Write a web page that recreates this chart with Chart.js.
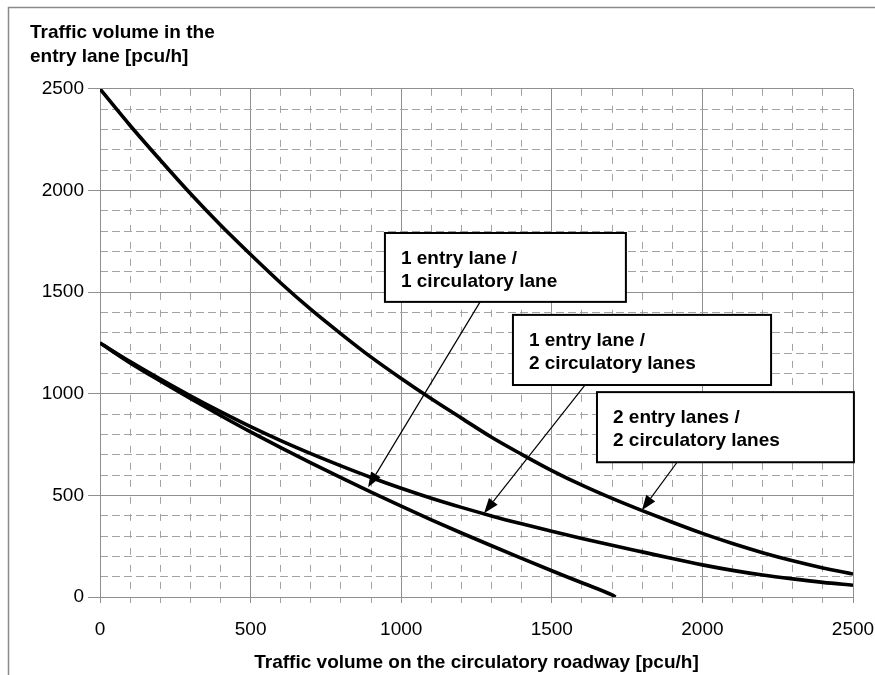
<!DOCTYPE html>
<html><head><meta charset="utf-8">
<script src="https://cdn.jsdelivr.net/npm/chart.js@4/dist/chart.umd.min.js"></script>
<style>html,body{margin:0;padding:0;background:#fff}canvas{display:block}</style>
</head><body>
<canvas id="c" width="875" height="675"></canvas>
<script>
// ---- data ----
const circulatoryFlow = [0,100,200,300,400,500,600,700,800,900,1000,1100,1200,1300,1400,1500,1600,1700,1800,1900,2000,2100,2200,2300,2400,2500];
const entry2lanes2circ = [2500,2320,2150,1985,1830,1685,1545,1415,1295,1180,1075,975,880,786,702,622,550,485,425,368,313,263,218,178,143,113];
const entry1lane2circ  = [1250,1158,1072,990,912,838,769,705,645,588,535,486,441,399,360,323,288,255,222,189,158,131,108,89,72,58];
const circulatoryFlow1x1 = [0,100,200,300,400,500,600,700,800,900,1000,1100,1200,1300,1400,1500,1600,1700,1712];
const entry1lane1circ  = [1250,1152,1063,977,893,812,735,660,587,516,447,380,315,252,190,129,70,10,0];
const axisTicks = [0,500,1000,1500,2000,2500];
const yAxisTitle = ['Traffic volume in the','entry lane [pcu/h]'];
const xAxisTitle = 'Traffic volume on the circulatory roadway [pcu/h]';
const calloutText = [
  ['1 entry lane /','1 circulatory lane'],
  ['1 entry lane /','2 circulatory lanes'],
  ['2 entry lanes /','2 circulatory lanes']
];
// callout box corners and arrow ends, in data units
const calloutBoxX = [[946,1746],[1371,2228],[1650,2503]];
const calloutBoxY = [[1452,1791],[1043,1388],[663,1008]];
const arrowFrom = [[1262,1452],[1610,1043],[1916,663]];
const arrowTo   = [[890,540],[1275,412],[1799,427]];

const toPts = (xs, ys) => xs.map((x,i)=>({x, y: ys[i]}));

const GRID = '#8f8f8f', MINOR = '#a3a3a3';
const FONT = "'Liberation Sans', Arial, Helvetica, sans-serif";

const framePlugin = {
  id: 'frame',
  beforeDraw(chart){
    const c = chart.ctx;
    c.save();
    c.fillStyle = '#fff'; c.fillRect(0,0,chart.width,chart.height);
    c.strokeStyle = '#8a8a8a'; c.lineWidth = 1.5;
    c.beginPath(); c.moveTo(8.5,675); c.lineTo(8.5,7.5); c.lineTo(875,7.5); c.stroke();
    c.restore();
  }
};

const calloutPlugin = {
  id: 'callouts',
  afterDatasetsDraw(chart){
    const c = chart.ctx, sx = chart.scales.x, sy = chart.scales.y;
    c.save();
    calloutText.forEach((lines,i)=>{
      const x1 = sx.getPixelForValue(arrowFrom[i][0]), y1 = sy.getPixelForValue(arrowFrom[i][1]);
      const x2 = sx.getPixelForValue(arrowTo[i][0]),   y2 = sy.getPixelForValue(arrowTo[i][1]);
      const ang = Math.atan2(y2-y1, x2-x1), L = 15, W = 5.5;
      const bx = x2 - L*Math.cos(ang), by = y2 - L*Math.sin(ang);
      c.strokeStyle = '#000'; c.lineWidth = 1.2;
      c.beginPath(); c.moveTo(x1,y1); c.lineTo(bx,by); c.stroke();
      c.fillStyle = '#000';
      c.beginPath(); c.moveTo(x2,y2);
      c.lineTo(bx + W*Math.sin(ang), by - W*Math.cos(ang));
      c.lineTo(bx - W*Math.sin(ang), by + W*Math.cos(ang));
      c.closePath(); c.fill();
      const l = sx.getPixelForValue(calloutBoxX[i][0]), r = sx.getPixelForValue(calloutBoxX[i][1]);
      const t = sy.getPixelForValue(calloutBoxY[i][1]), b = sy.getPixelForValue(calloutBoxY[i][0]);
      c.fillStyle = '#fff'; c.fillRect(l,t,r-l,b-t);
      c.strokeStyle = '#000'; c.lineWidth = 2; c.strokeRect(l,t,r-l,b-t);
      c.fillStyle = '#000'; c.font = 'bold 19px ' + FONT; c.textBaseline = 'middle'; c.textAlign = 'left';
      lines.forEach((s,j)=> c.fillText(s, l+16, t+26+j*23));
    });
    c.restore();
  }
};

const lineStyle = {borderColor:'#000', borderWidth:3.6, pointRadius:0, fill:false, cubicInterpolationMode:'monotone', xAxisID:'x', yAxisID:'y'};

new Chart(document.getElementById('c'), {
  type: 'line',
  data: {
    datasets: [
      Object.assign({label:'2 entry lanes / 2 circulatory lanes', data: toPts(circulatoryFlow, entry2lanes2circ)}, lineStyle),
      Object.assign({label:'1 entry lane / 2 circulatory lanes', data: toPts(circulatoryFlow, entry1lane2circ)}, lineStyle),
      Object.assign({label:'1 entry lane / 1 circulatory lane', data: toPts(circulatoryFlow1x1, entry1lane1circ)}, lineStyle)
    ]
  },
  options: {
    responsive: false,
    animation: false,
    layout: {padding: {left: 30, right: 22, top: 0, bottom: 0}},
    plugins: {
      legend: {display: false},
      tooltip: {enabled: false},
      title: {display: true, text: yAxisTitle, align: 'start', color: '#000',
              font: {family: FONT, size: 19, weight: 'bold', lineHeight: 1.26},
              padding: {top: 21, bottom: 20}}
    },
    scales: {
      x: {
        type: 'linear', position: 'bottom', weight: 1, min: 0, max: 2500,
        afterBuildTicks: s => { s.ticks = axisTicks.map(v=>({value:v})); },
        afterFit: s => { s.height = 78; s.paddingRight = 0; s.paddingLeft = 0; },
        ticks: {color:'#000', font:{family:FONT, size:19}, padding: 15, maxRotation: 0, callback: v => String(v)},
        grid: {color: GRID, lineWidth: 1, tickLength: 6, tickColor: GRID},
        border: {display: true, color: GRID, width: 1},
        title: {display: true, text: xAxisTitle, color:'#000', font:{family:FONT, size:19, weight:'bold'}, padding:{top:0, bottom:1}}
      },
      xMinor: {
        type: 'linear', position: 'bottom', weight: 0, min: 0, max: 2500,
        ticks: {display: false, stepSize: 100},
        afterFit: s => { s.height = 0; s.paddingRight = 0; s.paddingLeft = 0; },
        grid: {color: ctx => (ctx.tick && ctx.tick.value % 500 === 0) ? 'rgba(0,0,0,0)' : MINOR, lineWidth: 1, drawTicks: true, tickLength: 6},
        border: {display: false, dash: [7,10]}
      },
      y: {
        type: 'linear', position: 'left', weight: 1, min: 0, max: 2500,
        afterBuildTicks: s => { s.ticks = axisTicks.map(v=>({value:v})); },
        afterFit: s => { s.width = 70; },
        ticks: {color:'#000', font:{family:FONT, size:19}, padding: 4, callback: v => String(v)},
        grid: {color: GRID, lineWidth: 1, tickLength: 12, tickColor: GRID},
        border: {display: true, color: GRID, width: 1}
      },
      yMinor: {
        type: 'linear', position: 'left', weight: 0, min: 0, max: 2500,
        ticks: {display: false, stepSize: 100},
        afterFit: s => { s.width = 0; },
        grid: {color: ctx => (ctx.tick && ctx.tick.value % 500 === 0) ? 'rgba(0,0,0,0)' : MINOR, lineWidth: 1, drawTicks: false},
        border: {display: false, dash: [8,4]}
      }
    }
  },
  plugins: [framePlugin, calloutPlugin]
});
</script>
</body></html>
